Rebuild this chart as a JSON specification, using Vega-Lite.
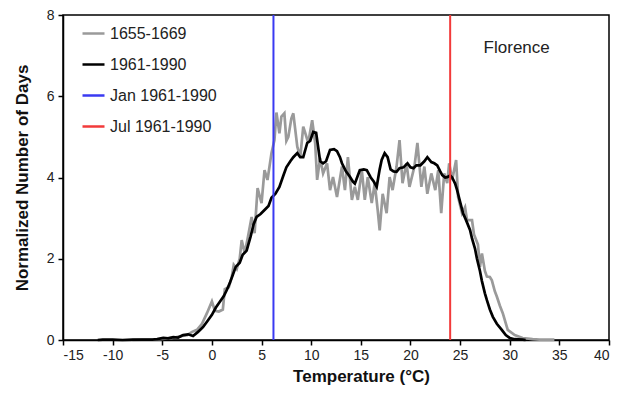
{
  "$schema": "https://vega.github.io/schema/vega-lite/v6.json",
  "autosize": "none",
  "width": 546,
  "height": 325,
  "padding": {"left": 63, "top": 15, "right": 15, "bottom": 54},
  "background": "white",
  "config": {
    "font": "Liberation Sans",
    "view": {"stroke": "black", "strokeWidth": 1.5},
    "axis": {
      "grid": false,
      "domainColor": "black",
      "domainWidth": 1.5,
      "tickColor": "black",
      "tickWidth": 1.5,
      "tickSize": 5,
      "labelFont": "Liberation Sans",
      "labelFontSize": 14,
      "labelColor": "#222",
      "titleFont": "Liberation Sans",
      "titleFontSize": 17,
      "titleFontWeight": "bold",
      "titleColor": "#111"
    }
  },
  "datasets": {
    "curves": [
      {"series": "1655-1669", "t": -8, "v": 0.0},
      {"series": "1655-1669", "t": -7, "v": 0.01},
      {"series": "1655-1669", "t": -6, "v": 0.01},
      {"series": "1655-1669", "t": -5, "v": 0.03},
      {"series": "1655-1669", "t": -4, "v": 0.05},
      {"series": "1655-1669", "t": -3, "v": 0.1},
      {"series": "1655-1669", "t": -2.5, "v": 0.12},
      {"series": "1655-1669", "t": -2, "v": 0.2},
      {"series": "1655-1669", "t": -1.5, "v": 0.25},
      {"series": "1655-1669", "t": -1, "v": 0.4},
      {"series": "1655-1669", "t": -0.5, "v": 0.66},
      {"series": "1655-1669", "t": 0, "v": 0.95},
      {"series": "1655-1669", "t": 0.3, "v": 0.72},
      {"series": "1655-1669", "t": 0.7, "v": 0.7},
      {"series": "1655-1669", "t": 1.1, "v": 0.75},
      {"series": "1655-1669", "t": 1.3, "v": 1.25},
      {"series": "1655-1669", "t": 1.7, "v": 1.3},
      {"series": "1655-1669", "t": 2.0, "v": 1.55},
      {"series": "1655-1669", "t": 2.2, "v": 1.85},
      {"series": "1655-1669", "t": 2.5, "v": 1.75},
      {"series": "1655-1669", "t": 2.8, "v": 2.0},
      {"series": "1655-1669", "t": 3.0, "v": 2.46},
      {"series": "1655-1669", "t": 3.3, "v": 2.14},
      {"series": "1655-1669", "t": 3.6, "v": 2.5},
      {"series": "1655-1669", "t": 4.0, "v": 3.03},
      {"series": "1655-1669", "t": 4.3, "v": 2.63},
      {"series": "1655-1669", "t": 4.6, "v": 3.74},
      {"series": "1655-1669", "t": 5.0, "v": 3.37},
      {"series": "1655-1669", "t": 5.3, "v": 4.18},
      {"series": "1655-1669", "t": 5.6, "v": 3.94},
      {"series": "1655-1669", "t": 6.0, "v": 4.6},
      {"series": "1655-1669", "t": 6.3, "v": 4.92},
      {"series": "1655-1669", "t": 6.5, "v": 5.6},
      {"series": "1655-1669", "t": 6.8, "v": 5.09},
      {"series": "1655-1669", "t": 7.0, "v": 5.5},
      {"series": "1655-1669", "t": 7.3, "v": 5.58},
      {"series": "1655-1669", "t": 7.5, "v": 4.9},
      {"series": "1655-1669", "t": 7.7, "v": 5.0},
      {"series": "1655-1669", "t": 8.0, "v": 5.45},
      {"series": "1655-1669", "t": 8.2, "v": 5.58},
      {"series": "1655-1669", "t": 8.6, "v": 4.76},
      {"series": "1655-1669", "t": 8.9, "v": 4.5},
      {"series": "1655-1669", "t": 9.2, "v": 5.25},
      {"series": "1655-1669", "t": 9.4, "v": 5.1},
      {"series": "1655-1669", "t": 9.7, "v": 4.85},
      {"series": "1655-1669", "t": 10.1, "v": 5.41},
      {"series": "1655-1669", "t": 10.4, "v": 4.85},
      {"series": "1655-1669", "t": 10.6, "v": 3.94},
      {"series": "1655-1669", "t": 10.9, "v": 4.48},
      {"series": "1655-1669", "t": 11.2, "v": 4.1},
      {"series": "1655-1669", "t": 11.6, "v": 4.35},
      {"series": "1655-1669", "t": 11.9, "v": 3.69},
      {"series": "1655-1669", "t": 12.2, "v": 4.01},
      {"series": "1655-1669", "t": 12.6, "v": 3.52},
      {"series": "1655-1669", "t": 13.1, "v": 4.27},
      {"series": "1655-1669", "t": 13.4, "v": 3.69},
      {"series": "1655-1669", "t": 13.7, "v": 4.5},
      {"series": "1655-1669", "t": 14.1, "v": 3.45},
      {"series": "1655-1669", "t": 14.4, "v": 3.77},
      {"series": "1655-1669", "t": 14.7, "v": 3.45},
      {"series": "1655-1669", "t": 15.1, "v": 4.18},
      {"series": "1655-1669", "t": 15.4, "v": 3.45},
      {"series": "1655-1669", "t": 15.7, "v": 4.01},
      {"series": "1655-1669", "t": 16.1, "v": 3.37},
      {"series": "1655-1669", "t": 16.4, "v": 3.86},
      {"series": "1655-1669", "t": 16.7, "v": 3.2},
      {"series": "1655-1669", "t": 16.9, "v": 2.7},
      {"series": "1655-1669", "t": 17.2, "v": 3.6},
      {"series": "1655-1669", "t": 17.6, "v": 3.12},
      {"series": "1655-1669", "t": 17.9, "v": 4.01},
      {"series": "1655-1669", "t": 18.2, "v": 3.69},
      {"series": "1655-1669", "t": 18.6, "v": 4.27},
      {"series": "1655-1669", "t": 18.9, "v": 4.92},
      {"series": "1655-1669", "t": 19.2, "v": 3.86},
      {"series": "1655-1669", "t": 19.6, "v": 4.35},
      {"series": "1655-1669", "t": 19.9, "v": 3.77},
      {"series": "1655-1669", "t": 20.4, "v": 4.27},
      {"series": "1655-1669", "t": 20.7, "v": 4.85},
      {"series": "1655-1669", "t": 21.1, "v": 3.77},
      {"series": "1655-1669", "t": 21.4, "v": 4.27},
      {"series": "1655-1669", "t": 21.7, "v": 3.6},
      {"series": "1655-1669", "t": 22.1, "v": 4.1},
      {"series": "1655-1669", "t": 22.5, "v": 3.69},
      {"series": "1655-1669", "t": 22.8, "v": 4.18},
      {"series": "1655-1669", "t": 23.1, "v": 3.12},
      {"series": "1655-1669", "t": 23.4, "v": 4.1},
      {"series": "1655-1669", "t": 23.7, "v": 3.86},
      {"series": "1655-1669", "t": 23.9, "v": 4.35},
      {"series": "1655-1669", "t": 24.2, "v": 3.94},
      {"series": "1655-1669", "t": 24.6, "v": 4.43},
      {"series": "1655-1669", "t": 24.8, "v": 3.52},
      {"series": "1655-1669", "t": 25.2, "v": 3.12},
      {"series": "1655-1669", "t": 25.5, "v": 3.27},
      {"series": "1655-1669", "t": 25.7, "v": 2.95},
      {"series": "1655-1669", "t": 26.2, "v": 2.95},
      {"series": "1655-1669", "t": 26.4, "v": 2.6},
      {"series": "1655-1669", "t": 26.8, "v": 2.35},
      {"series": "1655-1669", "t": 27.0, "v": 1.8},
      {"series": "1655-1669", "t": 27.2, "v": 2.13},
      {"series": "1655-1669", "t": 27.5, "v": 1.7},
      {"series": "1655-1669", "t": 27.7, "v": 1.56},
      {"series": "1655-1669", "t": 28.0, "v": 1.55},
      {"series": "1655-1669", "t": 28.2, "v": 1.47},
      {"series": "1655-1669", "t": 28.5, "v": 1.2},
      {"series": "1655-1669", "t": 28.7, "v": 1.07},
      {"series": "1655-1669", "t": 29.0, "v": 0.85},
      {"series": "1655-1669", "t": 29.3, "v": 0.66},
      {"series": "1655-1669", "t": 29.8, "v": 0.25},
      {"series": "1655-1669", "t": 30.5, "v": 0.12},
      {"series": "1655-1669", "t": 31.3, "v": 0.05},
      {"series": "1655-1669", "t": 32.3, "v": 0.02},
      {"series": "1655-1669", "t": 33.0, "v": 0.01},
      {"series": "1655-1669", "t": 34.5, "v": 0.01},
      {"series": "1961-1990", "t": -11.5, "v": 0.0},
      {"series": "1961-1990", "t": -11, "v": 0.01},
      {"series": "1961-1990", "t": -10, "v": 0.01},
      {"series": "1961-1990", "t": -9, "v": 0.0},
      {"series": "1961-1990", "t": -8, "v": 0.01},
      {"series": "1961-1990", "t": -7, "v": 0.01},
      {"series": "1961-1990", "t": -6, "v": 0.01},
      {"series": "1961-1990", "t": -5.5, "v": 0.02},
      {"series": "1961-1990", "t": -4.9, "v": 0.05},
      {"series": "1961-1990", "t": -4.4, "v": 0.04},
      {"series": "1961-1990", "t": -3.9, "v": 0.07},
      {"series": "1961-1990", "t": -3.4, "v": 0.06},
      {"series": "1961-1990", "t": -2.9, "v": 0.12},
      {"series": "1961-1990", "t": -2.4, "v": 0.14},
      {"series": "1961-1990", "t": -1.9, "v": 0.1},
      {"series": "1961-1990", "t": -1.4, "v": 0.2},
      {"series": "1961-1990", "t": -0.9, "v": 0.32},
      {"series": "1961-1990", "t": -0.5, "v": 0.45},
      {"series": "1961-1990", "t": 0, "v": 0.62},
      {"series": "1961-1990", "t": 0.4, "v": 0.8},
      {"series": "1961-1990", "t": 0.8, "v": 0.94},
      {"series": "1961-1990", "t": 1.2, "v": 1.08},
      {"series": "1961-1990", "t": 1.5, "v": 1.23},
      {"series": "1961-1990", "t": 1.8, "v": 1.4},
      {"series": "1961-1990", "t": 2.1, "v": 1.6},
      {"series": "1961-1990", "t": 2.4, "v": 1.8},
      {"series": "1961-1990", "t": 2.8, "v": 1.9},
      {"series": "1961-1990", "t": 3.1, "v": 2.1},
      {"series": "1961-1990", "t": 3.5, "v": 2.2},
      {"series": "1961-1990", "t": 3.9, "v": 2.55},
      {"series": "1961-1990", "t": 4.2, "v": 2.85},
      {"series": "1961-1990", "t": 4.5, "v": 3.03},
      {"series": "1961-1990", "t": 4.9, "v": 3.1},
      {"series": "1961-1990", "t": 5.3, "v": 3.2},
      {"series": "1961-1990", "t": 5.7, "v": 3.3},
      {"series": "1961-1990", "t": 6.0, "v": 3.5},
      {"series": "1961-1990", "t": 6.4, "v": 3.6},
      {"series": "1961-1990", "t": 6.8, "v": 3.77},
      {"series": "1961-1990", "t": 7.2, "v": 4.05},
      {"series": "1961-1990", "t": 7.5, "v": 4.25},
      {"series": "1961-1990", "t": 7.9, "v": 4.4},
      {"series": "1961-1990", "t": 8.2, "v": 4.5},
      {"series": "1961-1990", "t": 8.6, "v": 4.6},
      {"series": "1961-1990", "t": 8.9, "v": 4.5},
      {"series": "1961-1990", "t": 9.2, "v": 4.5},
      {"series": "1961-1990", "t": 9.6, "v": 4.85},
      {"series": "1961-1990", "t": 9.9, "v": 4.9},
      {"series": "1961-1990", "t": 10.2, "v": 5.12},
      {"series": "1961-1990", "t": 10.5, "v": 5.1},
      {"series": "1961-1990", "t": 10.7, "v": 4.75},
      {"series": "1961-1990", "t": 10.9, "v": 4.4},
      {"series": "1961-1990", "t": 11.2, "v": 4.35},
      {"series": "1961-1990", "t": 11.5, "v": 4.4},
      {"series": "1961-1990", "t": 11.9, "v": 4.68},
      {"series": "1961-1990", "t": 12.3, "v": 4.7},
      {"series": "1961-1990", "t": 12.6, "v": 4.65},
      {"series": "1961-1990", "t": 12.9, "v": 4.5},
      {"series": "1961-1990", "t": 13.1, "v": 4.35},
      {"series": "1961-1990", "t": 13.5, "v": 4.15},
      {"series": "1961-1990", "t": 13.9, "v": 4.02},
      {"series": "1961-1990", "t": 14.2, "v": 3.9},
      {"series": "1961-1990", "t": 14.4, "v": 3.85},
      {"series": "1961-1990", "t": 14.7, "v": 4.05},
      {"series": "1961-1990", "t": 14.9, "v": 4.18},
      {"series": "1961-1990", "t": 15.3, "v": 4.2},
      {"series": "1961-1990", "t": 15.6, "v": 4.18},
      {"series": "1961-1990", "t": 16.0, "v": 4.0},
      {"series": "1961-1990", "t": 16.3, "v": 3.9},
      {"series": "1961-1990", "t": 16.6, "v": 3.77},
      {"series": "1961-1990", "t": 16.9, "v": 4.2},
      {"series": "1961-1990", "t": 17.1, "v": 4.43},
      {"series": "1961-1990", "t": 17.4, "v": 4.6},
      {"series": "1961-1990", "t": 17.7, "v": 4.5},
      {"series": "1961-1990", "t": 18.0, "v": 4.2},
      {"series": "1961-1990", "t": 18.3, "v": 4.15},
      {"series": "1961-1990", "t": 18.6, "v": 4.14},
      {"series": "1961-1990", "t": 18.9, "v": 4.23},
      {"series": "1961-1990", "t": 19.3, "v": 4.25},
      {"series": "1961-1990", "t": 19.7, "v": 4.35},
      {"series": "1961-1990", "t": 20.0, "v": 4.25},
      {"series": "1961-1990", "t": 20.3, "v": 4.23},
      {"series": "1961-1990", "t": 20.6, "v": 4.3},
      {"series": "1961-1990", "t": 21.0, "v": 4.3},
      {"series": "1961-1990", "t": 21.4, "v": 4.4},
      {"series": "1961-1990", "t": 21.7, "v": 4.5},
      {"series": "1961-1990", "t": 22.1, "v": 4.38},
      {"series": "1961-1990", "t": 22.4, "v": 4.35},
      {"series": "1961-1990", "t": 22.7, "v": 4.3},
      {"series": "1961-1990", "t": 23.0, "v": 4.15},
      {"series": "1961-1990", "t": 23.2, "v": 4.06},
      {"series": "1961-1990", "t": 23.5, "v": 4.0},
      {"series": "1961-1990", "t": 23.7, "v": 4.01},
      {"series": "1961-1990", "t": 24.0, "v": 4.05},
      {"series": "1961-1990", "t": 24.2, "v": 4.0},
      {"series": "1961-1990", "t": 24.5, "v": 3.85},
      {"series": "1961-1990", "t": 24.7, "v": 3.69},
      {"series": "1961-1990", "t": 25.0, "v": 3.4},
      {"series": "1961-1990", "t": 25.3, "v": 3.12},
      {"series": "1961-1990", "t": 25.6, "v": 2.95},
      {"series": "1961-1990", "t": 26.0, "v": 2.71},
      {"series": "1961-1990", "t": 26.2, "v": 2.5},
      {"series": "1961-1990", "t": 26.5, "v": 2.25},
      {"series": "1961-1990", "t": 26.7, "v": 2.0},
      {"series": "1961-1990", "t": 27.0, "v": 1.7},
      {"series": "1961-1990", "t": 27.2, "v": 1.45},
      {"series": "1961-1990", "t": 27.5, "v": 1.15},
      {"series": "1961-1990", "t": 27.7, "v": 0.98},
      {"series": "1961-1990", "t": 28.0, "v": 0.75},
      {"series": "1961-1990", "t": 28.3, "v": 0.57},
      {"series": "1961-1990", "t": 28.7, "v": 0.4},
      {"series": "1961-1990", "t": 29.2, "v": 0.25},
      {"series": "1961-1990", "t": 29.6, "v": 0.12},
      {"series": "1961-1990", "t": 30.0, "v": 0.05},
      {"series": "1961-1990", "t": 30.5, "v": 0.02},
      {"series": "1961-1990", "t": 31.3, "v": 0.01},
      {"series": "1961-1990", "t": 31.6, "v": 0.0}
    ],
    "months": [
      {"series": "Jan 1961-1990", "t": 6.2},
      {"series": "Jul 1961-1990", "t": 24.0}
    ],
    "note": [
      {"label": "Florence"}
    ]
  },
  "layer": [
    {
      "data": {"name": "curves"},
      "mark": {"type": "line", "strokeWidth": 2.7, "strokeJoin": "miter"},
      "encoding": {
        "x": {
          "field": "t", "type": "quantitative",
          "scale": {"domain": [-15, 40], "nice": false, "zero": false},
          "axis": {"values": [-15, -10, -5, 0, 5, 10, 15, 20, 25, 30, 35, 40], "labelExpr": "'' + datum.value", "title": "Temperature (°C)", "titleX": 298, "titlePadding": 6, "labelPadding": 3}
        },
        "y": {
          "field": "v", "type": "quantitative",
          "scale": {"domain": [0, 8], "nice": false},
          "axis": {"values": [0, 2, 4, 6, 8], "title": "Normalized Number of Days", "titlePadding": 15, "labelPadding": 4}
        },
        "color": {
          "field": "series", "type": "nominal",
          "scale": {
            "domain": ["1655-1669", "1961-1990", "Jan 1961-1990", "Jul 1961-1990"],
            "range": ["#9a9a9a", "#000000", "#3a3af2", "#f23a3a"]
          },
          "legend": {
            "title": null,
            "orient": "none",
            "legendX": 18,
            "legendY": 6,
            "padding": 0,
            "symbolType": "stroke",
            "symbolSize": 484,
            "symbolStrokeWidth": 2.5,
            "labelFont": "Liberation Sans",
            "labelFontSize": 16,
            "labelColor": "#222",
            "labelOffset": 4,
            "rowPadding": 10
          }
        },
        "order": {"field": "series", "sort": "descending"}
      }
    },
    {
      "data": {"name": "months"},
      "mark": {"type": "rule", "strokeWidth": 2},
      "encoding": {
        "x": {"field": "t", "type": "quantitative"},
        "color": {"field": "series", "type": "nominal"}
      }
    },
    {
      "data": {"name": "note"},
      "mark": {"type": "text", "font": "Liberation Sans", "fontSize": 17, "color": "#222", "align": "center", "baseline": "middle"},
      "encoding": {
        "x": {"datum": 30.7},
        "y": {"datum": 7.2},
        "text": {"field": "label"}
      }
    }
  ]
}
